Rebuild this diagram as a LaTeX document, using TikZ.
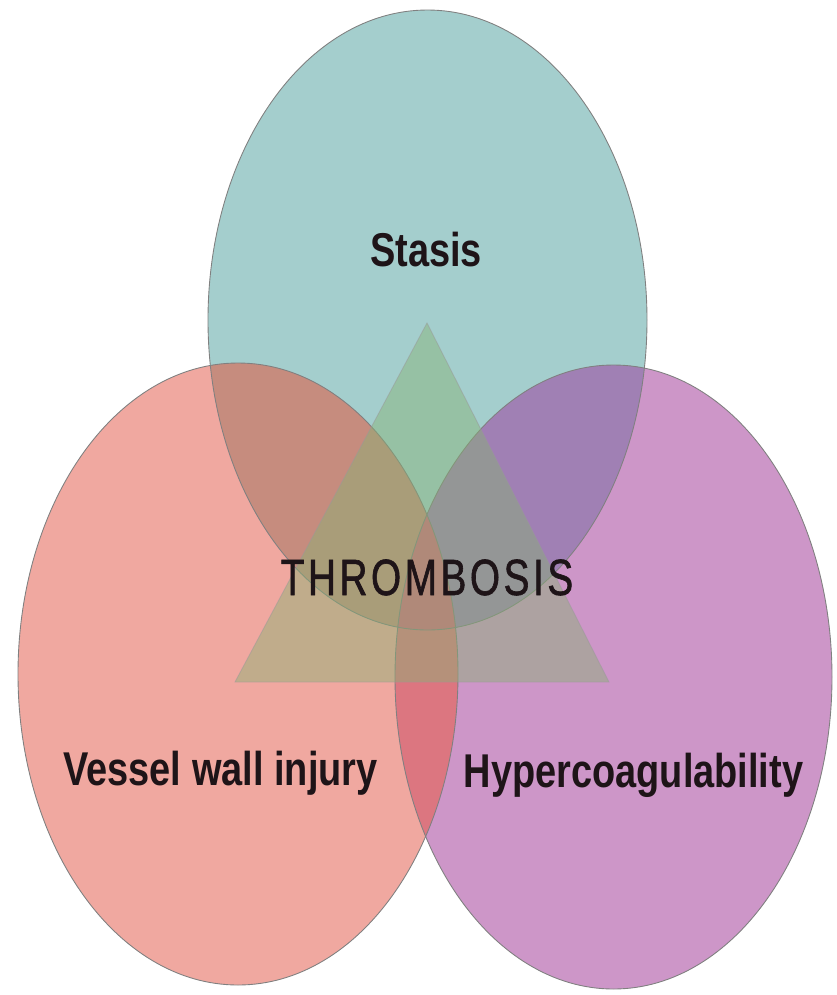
\documentclass[tikz,border=0pt]{standalone}
\usepackage{fontspec}
\usepackage{tikz}
\usetikzlibrary{positioning}
\newfontfamily\condsans[FakeStretch=0.8]{Liberation Sans}
\newfontfamily\trackedsans[FakeStretch=0.76,LetterSpace=7,FakeBold=1.2]{Liberation Sans}

\definecolor{stasiscol}{HTML}{A4CECD}
\definecolor{vesselcol}{HTML}{F0A8A0}
\definecolor{hypercol}{HTML}{CD96C8}
\definecolor{stvecol}{HTML}{C68C7E}
\definecolor{sthycol}{HTML}{A080B4}
\definecolor{vehycol}{HTML}{DC7680}
\definecolor{allcol}{HTML}{D2687E}
\definecolor{trianglecol}{HTML}{87B273}
\definecolor{inkcol}{HTML}{1E1418}

\newcommand{\stasisoval}{(427.5,320) ellipse [x radius=219.5, y radius=310]}
\newcommand{\vesseloval}{(238,674) ellipse [x radius=220, y radius=311]}
\newcommand{\hyperoval}{(613.5,677) ellipse [x radius=218.5, y radius=312]}

\begin{document}
\begin{tikzpicture}[x=0.02cm, y=-0.02cm,
    oval edge/.style={draw=black!50, line width=0.5pt},
    oval label/.style={font=\condsans\bfseries\fontsize{27}{32}\selectfont, text=inkcol, anchor=base, inner sep=0pt},
    core label/.style={font=\trackedsans\fontsize{29}{34}\selectfont, text=inkcol, anchor=base, inner sep=0pt}]
    \useasboundingbox (0,0) rectangle (836,995);

    % Ovals
    \fill[stasiscol] \stasisoval;
    \fill[vesselcol] \vesseloval;
    \fill[hypercol] \hyperoval;

    % Overlaps
    \begin{scope}
      \clip \stasisoval;
      \fill[stvecol] \vesseloval;
      \fill[sthycol] \hyperoval;
    \end{scope}
    \begin{scope}
      \clip \vesseloval;
      \fill[vehycol] \hyperoval;
      \clip \stasisoval;
      \fill[allcol] \hyperoval;
    \end{scope}

    % Outlines
    \draw[oval edge] \stasisoval;
    \draw[oval edge] \vesseloval;
    \draw[oval edge] \hyperoval;

    % Triangle
    \coordinate (apex) at (427,323);
    \coordinate (base left) at (235,682);
    \coordinate (base right) at (609,682);
    \filldraw[fill=trianglecol, fill opacity=0.45, draw=black!40, draw opacity=0.5, line width=0.5pt]
      (apex) -- (base left) -- (base right) -- cycle;

    % Labels
    \node[oval label] (stasis) at (426,266) {Stasis};
    \node[core label] (thrombosis) at (427,595) {THROMBOSIS};
    \node[oval label] (vessel) at (220.5,785) {Vessel wall injury};
    \node[oval label] (hyper) at (633.5,787) {Hypercoagulability};
\end{tikzpicture}
\end{document}
